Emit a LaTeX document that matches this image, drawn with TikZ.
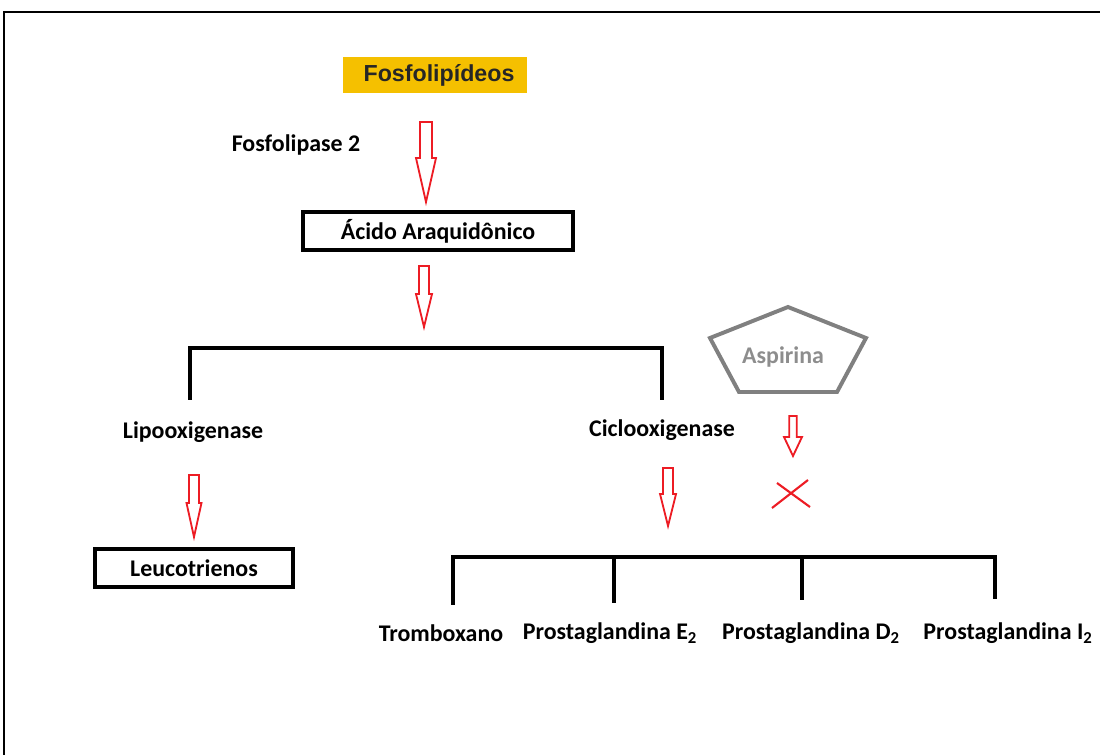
\documentclass[tikz,border=0pt]{standalone}
\usepackage{fontspec}
\usepackage{tikz}
\setmainfont{Carlito}
\newfontfamily\arialfont{Liberation Sans}
\definecolor{paintred}{RGB}{237,28,36}
\definecolor{gold}{RGB}{245,192,0}
\definecolor{stone}{RGB}{128,128,128}
% hollow red arrow: name, x, y of top, length, shaft half width, head half width, head length
\newcommand{\hollowarrow}[7]{%
    \coordinate (#1) at (#2,#3);
    \draw[redarrow] (#1) ++(-#5,0) -- ++(0,#4-#7) -- ++(#5-#6,0) -- ++(#6,#7)
        -- ++(#6,-#7) -- ++(#5-#6,0) -- ++(0,#7-#4) -- cycle;
}

\begin{document}
\begin{tikzpicture}[x=0.025cm,y=-0.025cm,inner sep=1mm]
    \tikzstyle{txt}=[font=\bfseries\fontsize{17}{20}\selectfont]
    \tikzstyle{box}=[txt,rectangle,draw=black,line width=2.8pt,minimum height=0.95cm]
    \tikzstyle{bracket}=[line width=2.8pt,line cap=rect]
    \tikzstyle{redarrow}=[draw=paintred,line width=1.3pt,fill=white,line join=miter]
    \useasboundingbox (0,0) rectangle (1100,755);
    \draw[line width=1.4pt] (4,760) -- (4,12) -- (1110,12);

    \node[fill=gold,minimum width=4.6cm,minimum height=0.9cm,text=black!85,
        font=\arialfont\bfseries\fontsize{16.5}{19}\selectfont] (fosfo) at (435,75) {\hspace*{0.2cm}Fosfolipídeos};
    \node[txt] (fosfolipase) at (296,145) {Fosfolipase 2};
    \hollowarrow{a1}{426}{122}{80}{6}{10}{44}
    \node[box,minimum width=6.75cm] (acido) at (438,231) {Ácido Araquidônico};
    \hollowarrow{a2}{424}{266}{61}{5}{8}{33}

    \coordinate (lipoend) at (190,398);
    \coordinate (cicloend) at (662,398);
    \draw[bracket] (lipoend) -- ++(0,-50) -| (cicloend);
    \node[txt] (lipo) at (193,432) {Lipooxigenase};
    \node[txt] (ciclo) at (662,430) {Ciclooxigenase};

    \draw[draw=stone,line width=2.8pt] (788,307) -- (866,338) -- (837,392) -- (739,392) -- (710,338) -- cycle;
    \node[txt,text=stone!90] (aspirina) at (783,357) {Aspirina};
    \hollowarrow{a5}{793}{416}{40}{3.7}{9}{19}
    \draw[paintred,line width=1.5pt] (772,508) -- (808,480) (777,483) -- (810,507);

    \hollowarrow{a3}{194}{475}{62}{5}{7.5}{34}
    \node[box,minimum width=4.95cm] (leuco) at (194,568) {Leucotrienos};
    \hollowarrow{a4}{668}{468}{58}{5}{8}{32}

    \draw[bracket] (453,557) -- (995,557);
    \foreach \x/\yb/\lx/\n/\t in {453/603/441/tromb/Tromboxano,
        614/601/610/pge/Prostaglandina E\textsubscript{2},
        802/598/811/pgd/Prostaglandina D\textsubscript{2},
        995/597/1008/pgi/Prostaglandina I\textsubscript{2}} {
        \node[txt] (\n) at (\lx,633) {\t};
        \coordinate (\n end) at (\x,\yb);
        \draw[bracket] (\x,557) -- (\n end);
    };
\end{tikzpicture}
\end{document}
